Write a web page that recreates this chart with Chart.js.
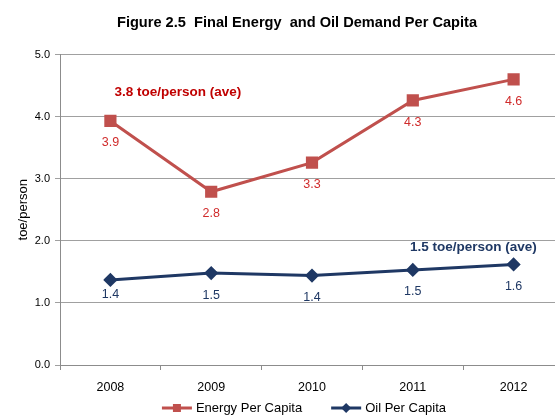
<!DOCTYPE html>
<html>
<head>
<meta charset="utf-8">
<script src="https://cdn.jsdelivr.net/npm/chart.js@4"></script>
<style>
  html, body { margin: 0; padding: 0; background: #fff; overflow: hidden; }
  #wrap { width: 555px; height: 419px; overflow: hidden; }
</style>
</head>
<body>
<div id="wrap"><canvas id="chart" width="594" height="419"></canvas></div>
<script>
// Données du graphique
const years = ['2008', '2009', '2010', '2011', '2012'];
const energyPerCapita = [3.93, 2.79, 3.26, 4.26, 4.6];
const oilPerCapita = [1.37, 1.48, 1.44, 1.53, 1.62];
const energyLabels = ['3.9', '2.8', '3.3', '4.3', '4.6'];
const oilLabels = ['1.4', '1.5', '1.4', '1.5', '1.6'];
const yTicks = [0, 1, 2, 3, 4, 5];

const RED = '#c0504d';
const BLUE = '#1f3864';
const FONT = 'Liberation Sans';

// Marqueur (carré ou losange) pour la légende
function drawMarker(ctx, shape, cx, cy) {
    ctx.beginPath();
    if (shape === 'rect') {
        ctx.rect(cx - 4, cy - 4, 8, 8);
    } else {
        ctx.moveTo(cx, cy - 5); ctx.lineTo(cx + 5, cy); ctx.lineTo(cx, cy + 5); ctx.lineTo(cx - 5, cy); ctx.closePath();
    }
    ctx.fill();
}

// Étiquettes de valeurs, moyennes et légende
const annotations = {
    id: 'annotations',
    afterDatasetsDraw(chart) {
        const ctx = chart.ctx;
        const x = chart.scales.x, y = chart.scales.y;
        ctx.save();
        ctx.textAlign = 'center';
        ctx.textBaseline = 'middle';
        ctx.font = '12.5px "' + FONT + '"';
        const sets = [[0, energyLabels, '#d02b2b'], [1, oilLabels, BLUE]];
        sets.forEach(([i, labels, color]) => {
            ctx.fillStyle = color;
            chart.getDatasetMeta(i).data.forEach((pt, j) => {
                // le premier point bleu a son étiquette remontée (près de l'axe)
                const dy = (i === 1 && j === 0) ? 15 : 22;
                ctx.fillText(labels[j], pt.x, pt.y + dy);
            });
        });
        ctx.font = 'bold 13.5px "' + FONT + '"';
        ctx.fillStyle = '#c00000';
        ctx.fillText('3.8 toe/person (ave)', x.getPixelForValue(0.67), y.getPixelForValue(4.39));
        ctx.fillStyle = BLUE;
        ctx.fillText('1.5 toe/person (ave)', x.getPixelForValue(3.6), y.getPixelForValue(1.89));

        // Légende : trait + marqueur puis libellé
        ctx.font = '13px "' + FONT + '"';
        ctx.textAlign = 'left';
        const items = chart.data.datasets.map(ds => ({
            text: ds.label, color: ds.borderColor, shape: ds.pointStyle,
            w: 30 + 4 + ctx.measureText(ds.label).width
        }));
        const gap = 29;
        const total = items.reduce((s, it) => s + it.w, 0) + gap * (items.length - 1);
        let lx = 304 - total / 2;
        const ly = 408;
        items.forEach(it => {
            ctx.strokeStyle = it.color;
            ctx.fillStyle = it.color;
            ctx.lineWidth = 3;
            ctx.beginPath(); ctx.moveTo(lx, ly); ctx.lineTo(lx + 30, ly); ctx.stroke();
            drawMarker(ctx, it.shape, lx + 15, ly);
            ctx.fillStyle = '#000';
            ctx.fillText(it.text, lx + 34, ly);
            lx += it.w + gap;
        });
        ctx.restore();
    }
};

new Chart(document.getElementById('chart'), {
    type: 'line',
    data: {
        labels: years,
        datasets: [{
            label: 'Energy Per Capita',
            data: energyPerCapita,
            borderColor: RED,
            backgroundColor: RED,
            borderWidth: 3,
            pointStyle: 'rect',
            pointRadius: 6.5,
            pointHoverRadius: 6.5
        }, {
            label: 'Oil Per Capita',
            data: oilPerCapita,
            borderColor: BLUE,
            backgroundColor: BLUE,
            borderWidth: 3,
            pointStyle: 'rectRot',
            pointRadius: 5,
            pointHoverRadius: 5
        }]
    },
    options: {
        responsive: false,
        animation: false,
        layout: { padding: { left: 0, right: 0, top: 0, bottom: 24 } },
        plugins: {
            title: {
                display: true,
                text: 'Figure 2.5  Final Energy  and Oil Demand Per Capita',
                color: '#000',
                font: { family: FONT, size: 14.6, weight: 'bold' },
                padding: { top: 14, bottom: 23 }
            },
            legend: { display: false },
            tooltip: { enabled: false }
        },
        scales: {
            x: {
                offset: true,
                afterFit(scale) { scale.height = 30; },
                grid: { offset: true, drawOnChartArea: false, drawTicks: true, tickLength: 5, color: '#8c8c8c' },
                border: { color: '#8c8c8c' },
                ticks: { color: '#000', padding: 10, font: { family: FONT, size: 12.5 } }
            },
            y: {
                min: 0,
                max: 5,
                afterBuildTicks(scale) { scale.ticks = yTicks.map(v => ({ value: v })); },
                afterFit(scale) { scale.width = 60; },
                title: {
                    display: true, text: 'toe/person', color: '#000',
                    font: { family: FONT, size: 13 }, padding: { top: 16, bottom: 0 }
                },
                grid: { color: '#a0a0a0', tickLength: 5 },
                border: { color: '#8c8c8c' },
                ticks: {
                    color: '#000',
                    padding: 5,
                    font: { family: FONT, size: 11 },
                    callback: v => v.toFixed(1)
                }
            },
            // axe fantôme à droite : réserve la marge coupée par le cadre
            yRight: {
                position: 'right',
                afterFit(scale) { scale.width = 30; },
                grid: { display: false },
                border: { display: false },
                ticks: { display: false }
            }
        }
    },
    plugins: [annotations]
});
</script>
</body>
</html>
